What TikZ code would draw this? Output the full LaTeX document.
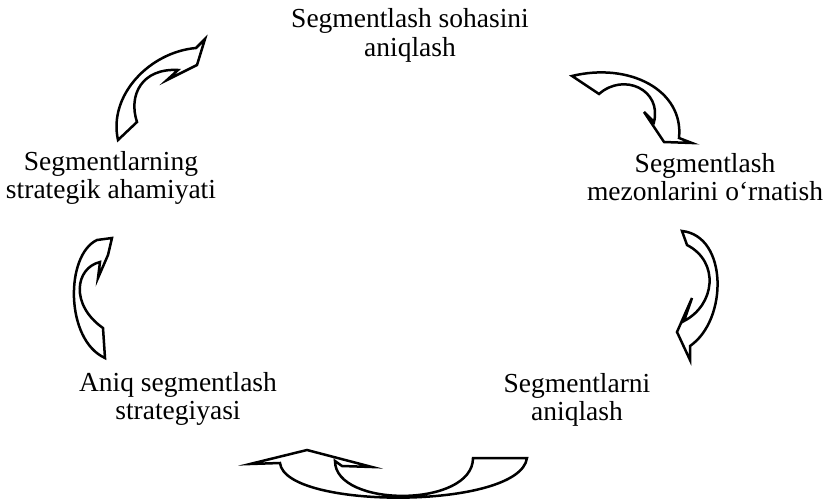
\documentclass[tikz,border=0pt]{standalone}
\usepackage{fontspec}
\setmainfont{Liberation Serif}
\usepackage{tikz}

\tikzset{
  blockarrow/.style={draw, fill=white, line width=1pt, line join=miter},
  lbl/.style={align=center, inner sep=0pt, font=\fontsize{11}{11.4}\selectfont}
}

\begin{document}
\begin{tikzpicture}[x=0.4pt, y=-0.4pt]
\useasboundingbox (0,0) rectangle (827,500);

% the five stages
\node [lbl] (sohasi)   at (410,35.5)  {Segmentlash sohasini\\aniqlash};
\node [lbl] (mezon)    at (705,177)   {Segmentlash\\mezonlarini o‘rnatish};
\node [lbl] (segment)  at (577,400) {Segmentlarni\\aniqlash};
\node [lbl] (strateg)  at (178,399) {Aniq segmentlash\\strategiyasi};
\node [lbl] (ahamiyat) at (111,178) {Segmentlarning\\strategik ahamiyati};

% top left
\draw [blockarrow] (118,140) -- (137,122) .. controls (128,95) and (142,68) .. (178,70)
  -- (167,80) -- (197,65) -- (205,39) -- (196,48)
  .. controls (150,52) and (108,95) .. (118,140) -- cycle;
% top right
\draw [blockarrow, shift={(-6,10)}] (578,66) -- (605,84) .. controls (630,62) and (668,80) .. (660,112)
  -- (650,102) -- (670,132) -- (698,133) -- (685,128)
  .. controls (690,80) and (635,52) .. (578,66) -- cycle;
% right
\draw [blockarrow] (682,231) -- (687,245) .. controls (720,262) and (715,305) .. (684,321)
  -- (692,298) -- (677,332) -- (690,360) -- (690,346)
  .. controls (728,320) and (728,236) .. (682,231) -- cycle;
% bottom
\draw [blockarrow] (473,458) -- (527,458) .. controls (520,510) and (285,510) .. (280,463)
  -- (250,464) -- (307,450) -- (372,467) -- (342,466) -- (335,461)
  .. controls (335,508) and (473,508) .. (473,458) -- cycle;
% left
\draw [blockarrow] (105,358) -- (103,328) .. controls (70,305) and (75,268) .. (100,262)
  -- (98,278) -- (108,255) -- (112,238) -- (97,240)
  .. controls (65,255) and (65,340) .. (105,358) -- cycle;

\end{tikzpicture}
\end{document}
